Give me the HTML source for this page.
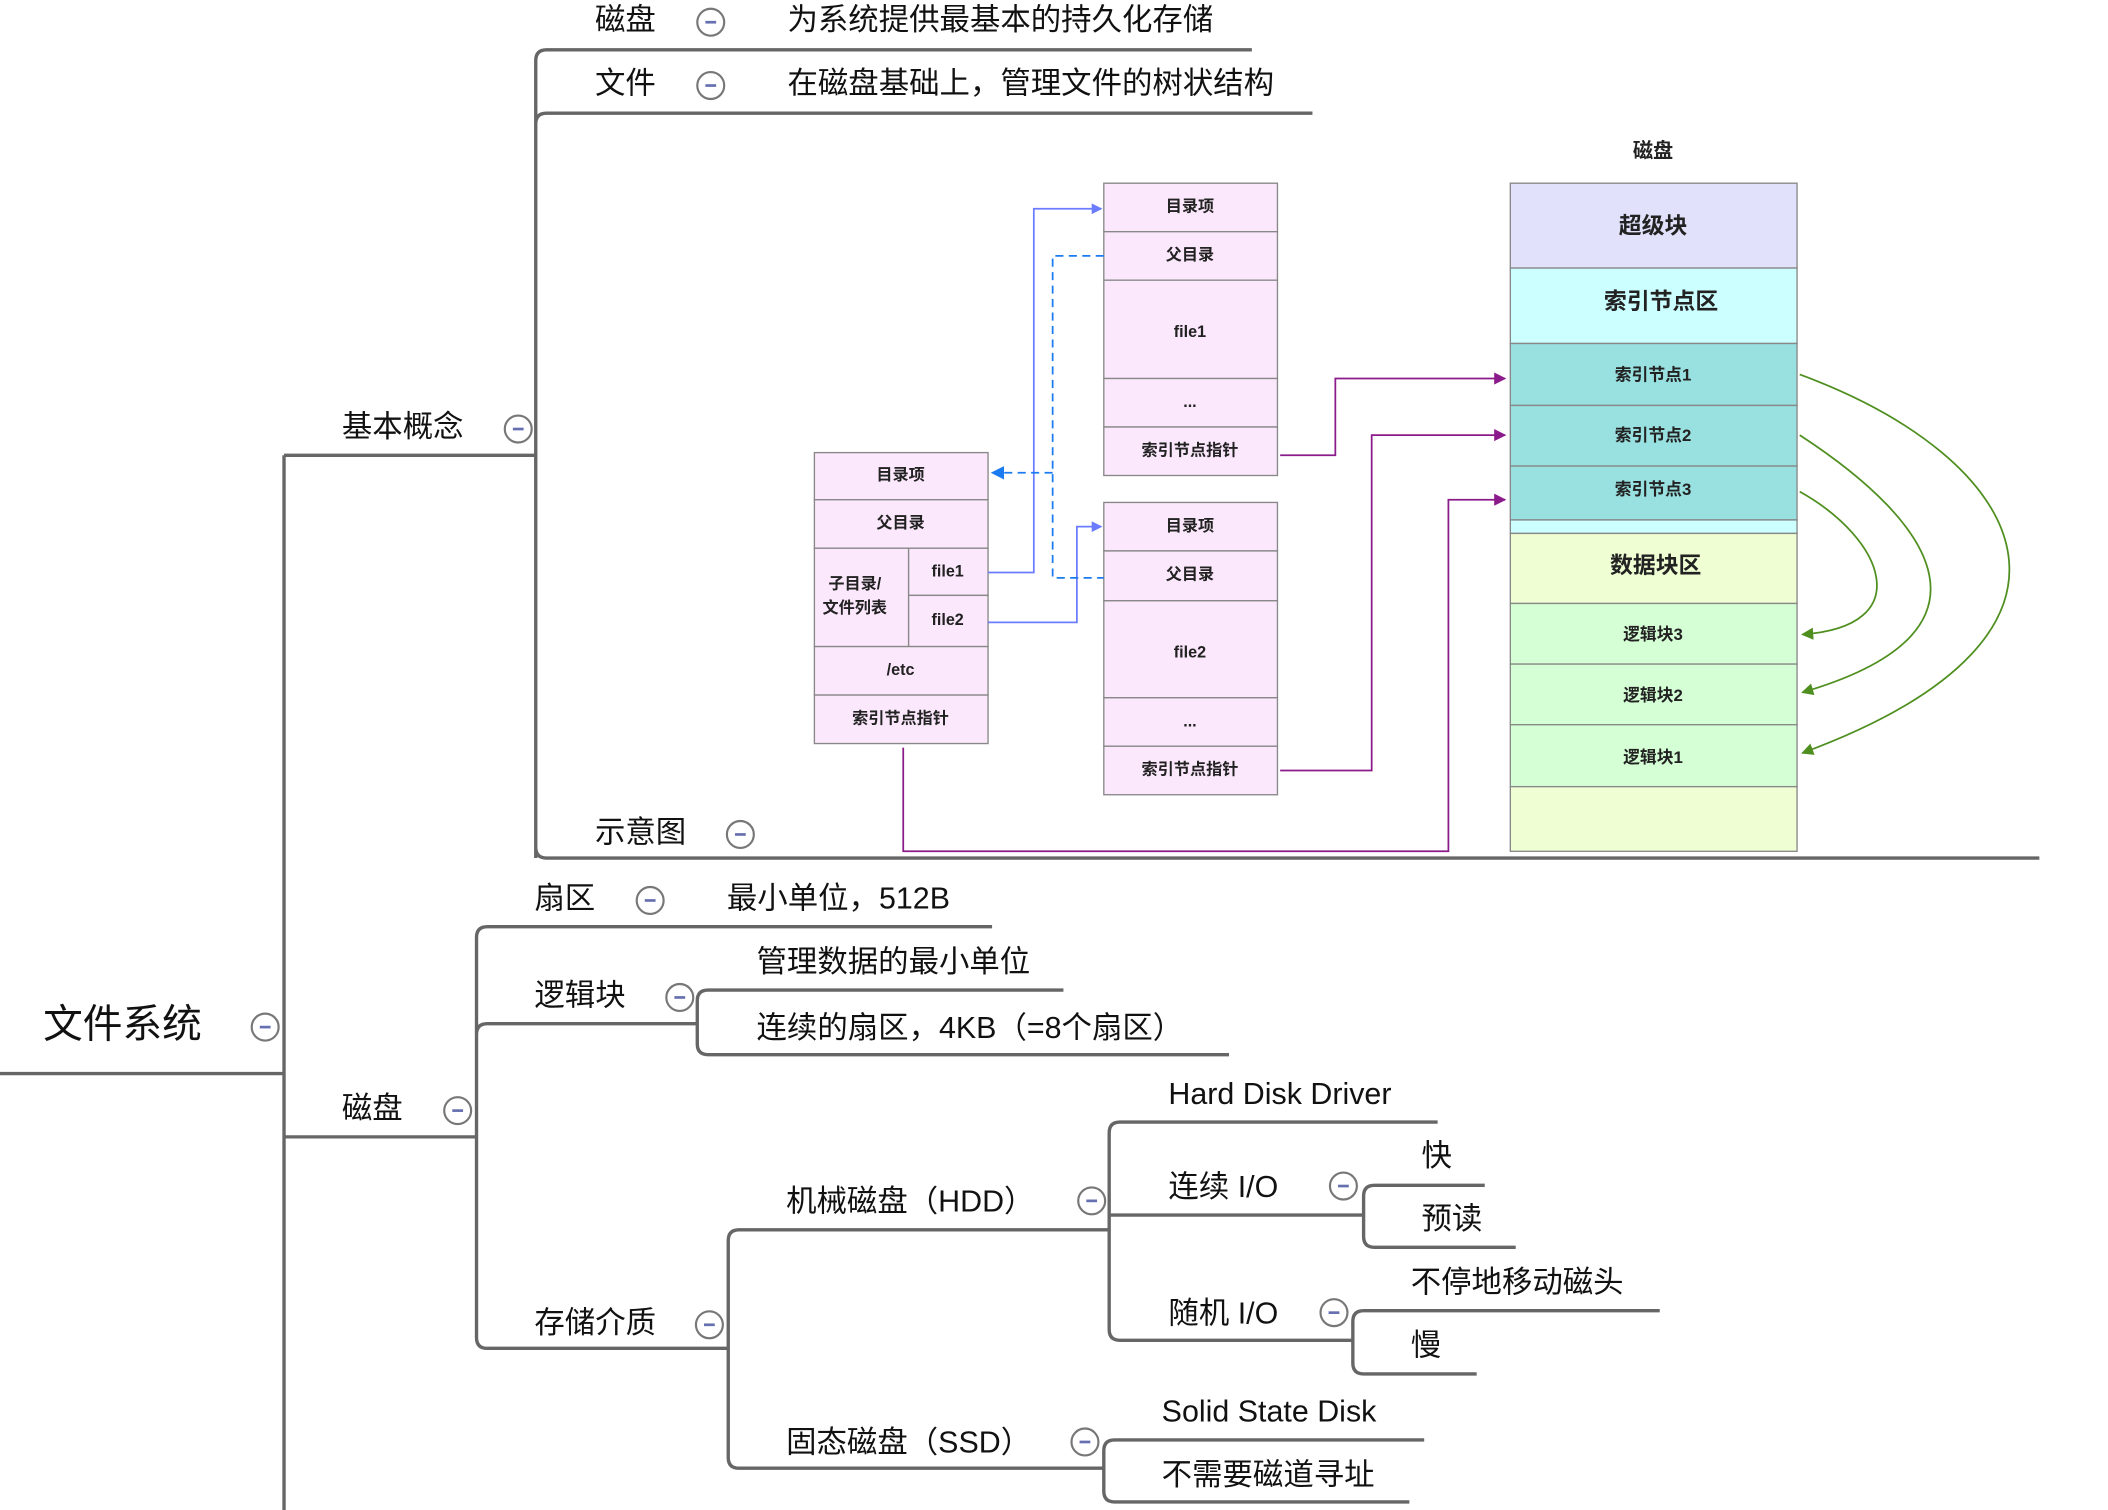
<!DOCTYPE html>
<html><head><meta charset="utf-8"><style>
html,body{margin:0;padding:0;background:#fff;width:2108px;height:1510px;overflow:hidden}
svg{display:block}
text{font-family:"Liberation Sans","Noto Sans CJK SC",sans-serif;fill:#111}
.t{font-size:22.6px;dominant-baseline:middle}
.d{font-size:12px;text-anchor:middle;dominant-baseline:middle;fill:#222;font-weight:bold}
.k{font-size:15px;text-anchor:middle;dominant-baseline:middle;font-weight:bold;fill:#222}
.ln{stroke:#666;stroke-width:2.5;fill:none}
.bx{stroke:#888;stroke-width:1;fill:#fce8fc}
</style></head><body>
<svg width="2108" height="1510" viewBox="0 0 1566 1121" preserveAspectRatio="none">
<defs>
<g id="c"><circle r="10" fill="#fff" stroke="#777" stroke-width="1.6"/><line x1="-4" x2="4" y1="0" y2="0" stroke="#6670b0" stroke-width="2"/></g>
<marker id="ab" markerWidth="8" markerHeight="8" refX="7" refY="4" orient="auto" markerUnits="userSpaceOnUse"><path d="M0,0 L8,4 L0,8z" fill="#6b7cff"/></marker>
<marker id="ad" markerWidth="10" markerHeight="10" refX="9" refY="5" orient="auto" markerUnits="userSpaceOnUse"><path d="M0,0 L10,5 L0,10z" fill="#1a7cf0"/></marker>
<marker id="ap" markerWidth="9" markerHeight="9" refX="8" refY="4.5" orient="auto" markerUnits="userSpaceOnUse"><path d="M0,0 L9,4.5 L0,9z" fill="#8b1a8b"/></marker>
<marker id="ag" markerWidth="9" markerHeight="9" refX="8" refY="4.5" orient="auto" markerUnits="userSpaceOnUse"><path d="M0,0 L9,4.5 L0,9z" fill="#4f8f1f"/></marker>
</defs>

<path class="ln" d="M0,797 H211 M211,338 V1121 M211,338 H398 M211,844 H354"/>
<path class="ln" d="M398,637 V45 Q398,37 406,37 H930 M398,92 Q398,84 406,84 H975 M398,629 Q398,637 406,637 H1515"/>
<path class="ln" d="M354,993 V696 Q354,688 362,688 H737 M354,768 Q354,760 362,760 H518 M354,993 Q354,1001 362,1001 H541"/>
<path class="ln" d="M518,775 V743 Q518,735 526,735 H790 M518,775 Q518,783 526,783 H913"/>
<path class="ln" d="M541,1082 V921 Q541,913 549,913 H824 M541,1082 Q541,1090 549,1090 H820"/>
<path class="ln" d="M824,987 V841 Q824,833 832,833 H1068 M824,902 H1013 M824,987 Q824,995 832,995 H1005"/>
<path class="ln" d="M1013,918 V888 Q1013,880 1021,880 H1103 M1013,918 Q1013,926 1021,926 H1126"/>
<path class="ln" d="M1005,1012 V981 Q1005,973 1013,973 H1233 M1005,1012 Q1005,1020 1013,1020 H1097"/>
<path class="ln" d="M820,1107 V1077 Q820,1069 828,1069 H1058 M820,1107 Q820,1115 828,1115 H1047"/>

<g transform="translate(0,1.5)">
<text x="32" y="761" style="font-size:29.5px;dominant-baseline:middle">文件系统</text><use href="#c" x="197" y="761"/>
<text class="t" x="254" y="317">基本概念</text><use href="#c" x="385" y="317"/>
<text class="t" x="254" y="823">磁盘</text><use href="#c" x="340" y="823"/>
<text class="t" x="442" y="15">磁盘</text><use href="#c" x="528" y="15"/><text class="t" x="585" y="15">为系统提供最基本的持久化存储</text>
<text class="t" x="442" y="62">文件</text><use href="#c" x="528" y="62"/><text class="t" x="585" y="62">在磁盘基础上，管理文件的树状结构</text>
<text class="t" x="442" y="618">示意图</text><use href="#c" x="550" y="618"/>
<text class="t" x="397" y="667">扇区</text><use href="#c" x="483" y="667"/><text class="t" x="540" y="667">最小单位，512B</text>
<text class="t" x="397" y="739">逻辑块</text><use href="#c" x="505" y="739"/>
<text class="t" x="562" y="714">管理数据的最小单位</text>
<text class="t" x="562" y="763">连续的扇区，4KB（=8个扇区）</text>
<text class="t" x="397" y="982">存储介质</text><use href="#c" x="527" y="982"/>
<text class="t" x="584" y="892">机械磁盘（HDD）</text><use href="#c" x="811" y="890"/>
<text class="t" x="584" y="1071">固态磁盘（SSD）</text><use href="#c" x="806" y="1069"/>
<text class="t" x="868" y="812">Hard Disk Driver</text>
<text class="t" x="868" y="881">连续 I/O</text><use href="#c" x="998" y="879"/>
<text class="t" x="868" y="975">随机 I/O</text><use href="#c" x="991" y="973"/>
<text class="t" x="1056" y="858">快</text>
<text class="t" x="1056" y="905">预读</text>
<text class="t" x="1048" y="952">不停地移动磁头</text>
<text class="t" x="1048" y="999">慢</text>
<text class="t" x="863" y="1048">Solid State Disk</text>
<text class="t" x="863" y="1095">不需要磁道寻址</text>
</g>

<g>
<rect class="bx" x="605" y="336" width="129" height="35"/><text class="d" x="669" y="353">目录项</text>
<rect class="bx" x="605" y="371" width="129" height="36"/><text class="d" x="669" y="389">父目录</text>
<rect class="bx" x="605" y="407" width="70" height="73"/><text class="d" x="635" y="434">子目录/</text><text class="d" x="635" y="452">文件列表</text>
<rect class="bx" x="675" y="407" width="59" height="35"/><text class="d" x="704" y="425">file1</text>
<rect class="bx" x="675" y="442" width="59" height="38"/><text class="d" x="704" y="461">file2</text>
<rect class="bx" x="605" y="480" width="129" height="36"/><text class="d" x="669" y="498">/etc</text>
<rect class="bx" x="605" y="516" width="129" height="36"/><text class="d" x="669" y="534">索引节点指针</text>
</g>
<g>
<rect class="bx" x="820" y="136" width="129" height="36"/><text class="d" x="884" y="154">目录项</text>
<rect class="bx" x="820" y="172" width="129" height="36"/><text class="d" x="884" y="190">父目录</text>
<rect class="bx" x="820" y="208" width="129" height="73"/><text class="d" x="884" y="247">file1</text>
<rect class="bx" x="820" y="281" width="129" height="36"/><text class="d" x="884" y="299">...</text>
<rect class="bx" x="820" y="317" width="129" height="36"/><text class="d" x="884" y="335">索引节点指针</text>
</g>
<g>
<rect class="bx" x="820" y="373" width="129" height="36"/><text class="d" x="884" y="391">目录项</text>
<rect class="bx" x="820" y="409" width="129" height="37"/><text class="d" x="884" y="427">父目录</text>
<rect class="bx" x="820" y="446" width="129" height="72"/><text class="d" x="884" y="485">file2</text>
<rect class="bx" x="820" y="518" width="129" height="36"/><text class="d" x="884" y="536">...</text>
<rect class="bx" x="820" y="554" width="129" height="36"/><text class="d" x="884" y="572">索引节点指针</text>
</g>
<text class="k" x="1228" y="113" style="font-size:15px">磁盘</text>
<g stroke="#888" stroke-width="1">
<rect x="1122" y="136" width="213" height="63" fill="#e1e1fb"/>
<rect x="1122" y="199" width="213" height="56" fill="#ccffff"/>
<rect x="1122" y="255" width="213" height="46" fill="#99e0e0"/>
<rect x="1122" y="301" width="213" height="45" fill="#99e0e0"/>
<rect x="1122" y="346" width="213" height="40" fill="#99e0e0"/>
<rect x="1122" y="386" width="213" height="10" fill="#ccffff"/>
<rect x="1122" y="396" width="213" height="52" fill="#efffd3"/>
<rect x="1122" y="448" width="213" height="45" fill="#d5ffd5"/>
<rect x="1122" y="493" width="213" height="45" fill="#d5ffd5"/>
<rect x="1122" y="538" width="213" height="46" fill="#d5ffd5"/>
<rect x="1122" y="584" width="213" height="48" fill="#efffd3"/>
</g>
<text class="k" x="1228" y="169" style="font-size:17px">超级块</text>
<text class="k" x="1234" y="225" style="font-size:17px">索引节点区</text>
<text class="k" x="1228" y="279" style="font-size:12.5px">索引节点1</text>
<text class="k" x="1228" y="324" style="font-size:12.5px">索引节点2</text>
<text class="k" x="1228" y="364" style="font-size:12.5px">索引节点3</text>
<text class="k" x="1230" y="421" style="font-size:17px">数据块区</text>
<text class="k" x="1228" y="472" style="font-size:12.5px">逻辑块3</text>
<text class="k" x="1228" y="517" style="font-size:12.5px">逻辑块2</text>
<text class="k" x="1228" y="563" style="font-size:12.5px">逻辑块1</text>

<path d="M734,425 H768 V155 H818" stroke="#6b7cff" stroke-width="1.3" fill="none" marker-end="url(#ab)"/>
<path d="M734,462 H800 V391 H818" stroke="#6b7cff" stroke-width="1.3" fill="none" marker-end="url(#ab)"/>
<path d="M820,190 H782 V429 H820 M782,351 H738" stroke="#1a7cf0" stroke-width="1.3" stroke-dasharray="6,4" fill="none"/>
<path d="M760,351 H737" stroke="none" fill="none" marker-end="url(#ad)"/>
<path d="M951,338 H992 V281 H1118" stroke="#8b1a8b" stroke-width="1.3" fill="none" marker-end="url(#ap)"/>
<path d="M951,572 H1019 V323 H1118" stroke="#8b1a8b" stroke-width="1.3" fill="none" marker-end="url(#ap)"/>
<path d="M671,555 V632 H1076 V371 H1118" stroke="#8b1a8b" stroke-width="1.3" fill="none" marker-end="url(#ap)"/>
<path d="M1337,365 C1400,400 1425,465 1339,471" stroke="#4f8f1f" stroke-width="1.3" fill="none" marker-end="url(#ag)"/>
<path d="M1337,323 C1440,390 1490,470 1339,514" stroke="#4f8f1f" stroke-width="1.3" fill="none" marker-end="url(#ag)"/>
<path d="M1337,278 C1505,340 1580,470 1339,559" stroke="#4f8f1f" stroke-width="1.3" fill="none" marker-end="url(#ag)"/>
</svg>
</body></html>
